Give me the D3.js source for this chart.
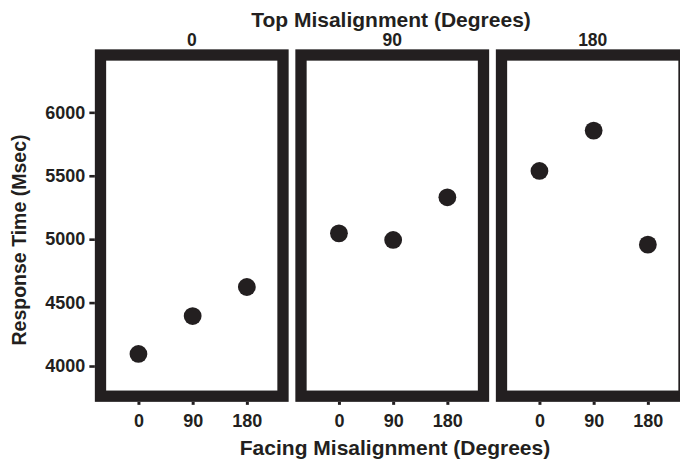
<!DOCTYPE html>
<html>
<head>
<meta charset="utf-8">
<script src="https://cdn.jsdelivr.net/npm/d3@7"></script>
<style>
  html, body { margin: 0; padding: 0; background: #ffffff; }
  svg { display: block; font-family: "Liberation Sans", Arial, sans-serif; font-weight: bold; }
</style>
</head>
<body>
<svg id="chart" width="680" height="460"></svg>
<script>
// ---- data ----
const topMisalignment = ["0", "90", "180"];          // facet panels
const facingMisalignment = [0, 90, 180];             // x categories (degrees)
const rtTop0   = [4095, 4394, 4623];
const rtTop90  = [5046, 4994, 5330];
const rtTop180 = [5538, 5856, 4957];
const yTicks = [4000, 4500, 5000, 5500, 6000];
const xTicks = [0, 90, 180];
const titleTop = "Top Misalignment (Degrees)";
const titleX = "Facing Misalignment (Degrees)";
const titleY = "Response Time (Msec)";

const seriesByPanel = [rtTop0, rtTop90, rtTop180];

const ink = "#231f20";
const svg = d3.select("#chart");

const panelLeft0 = 100.5, panelPitch = 200.5, panelW = 182.5;
const panelTop = 55, panelBottom = 396.2;
const border = 11.3;

const y = d3.scaleLinear().domain([3762, 6452]).range([panelBottom, panelTop]);
const xInner = d3.scaleLinear().domain([-63, 240]).range([0, panelW]);

// Top title
svg.append("text")
  .attr("x", 391).attr("y", 27)
  .attr("text-anchor", "middle")
  .attr("font-size", 21)
  .attr("fill", ink)
  .text(titleTop);

topMisalignment.forEach((lab, i) => {
  const g = svg.append("g").attr("transform", `translate(${panelLeft0 + i * panelPitch},0)`);
  // strip label
  g.append("text")
    .attr("x", panelW / 2).attr("y", 46)
    .attr("text-anchor", "middle")
    .attr("font-size", 17.5)
    .attr("fill", ink)
    .text(lab);
  // panel border
  g.append("rect")
    .attr("x", 0).attr("y", panelTop)
    .attr("width", panelW).attr("height", panelBottom - panelTop)
    .attr("fill", "none")
    .attr("stroke", ink)
    .attr("stroke-width", border);
  // x axis
  const xa = g.append("g")
    .attr("transform", `translate(0,${panelBottom + border / 2})`)
    .call(d3.axisBottom(xInner).tickValues(xTicks).tickSize(3).tickPadding(9).tickFormat(d3.format("d")));
  xa.select(".domain").remove();
  xa.selectAll("line").attr("stroke", ink).attr("stroke-width", 3);
  xa.selectAll("text").attr("font-size", 18).attr("fill", ink)
    .attr("font-family", null).attr("font-weight", "bold");
  // points
  g.selectAll("circle.pt")
    .data(facingMisalignment.map((f, j) => ({ f, v: seriesByPanel[i][j] })))
    .enter().append("circle")
    .attr("class", "pt")
    .attr("cx", d => xInner(d.f))
    .attr("cy", d => y(d.v))
    .attr("r", 8.9)
    .attr("fill", ink);
});

// y axis
const ya = svg.append("g")
  .attr("transform", `translate(${panelLeft0 - border / 2},0)`)
  .call(d3.axisLeft(y).tickValues(yTicks).tickSize(5.5).tickPadding(4).tickFormat(d3.format("d")));
ya.select(".domain").remove();
ya.selectAll("line").attr("stroke", ink).attr("stroke-width", 2.6);
ya.selectAll("text").attr("font-size", 18).attr("fill", ink)
  .attr("font-family", null).attr("font-weight", "bold");

// axis titles
svg.append("text")
  .attr("x", 395).attr("y", 455)
  .attr("text-anchor", "middle")
  .attr("font-size", 21)
  .attr("fill", ink)
  .text(titleX);

svg.append("text")
  .attr("transform", "translate(26,240) rotate(-90)")
  .attr("text-anchor", "middle")
  .attr("font-size", 19.5)
  .attr("fill", ink)
  .text(titleY);
</script>
</body>
</html>
